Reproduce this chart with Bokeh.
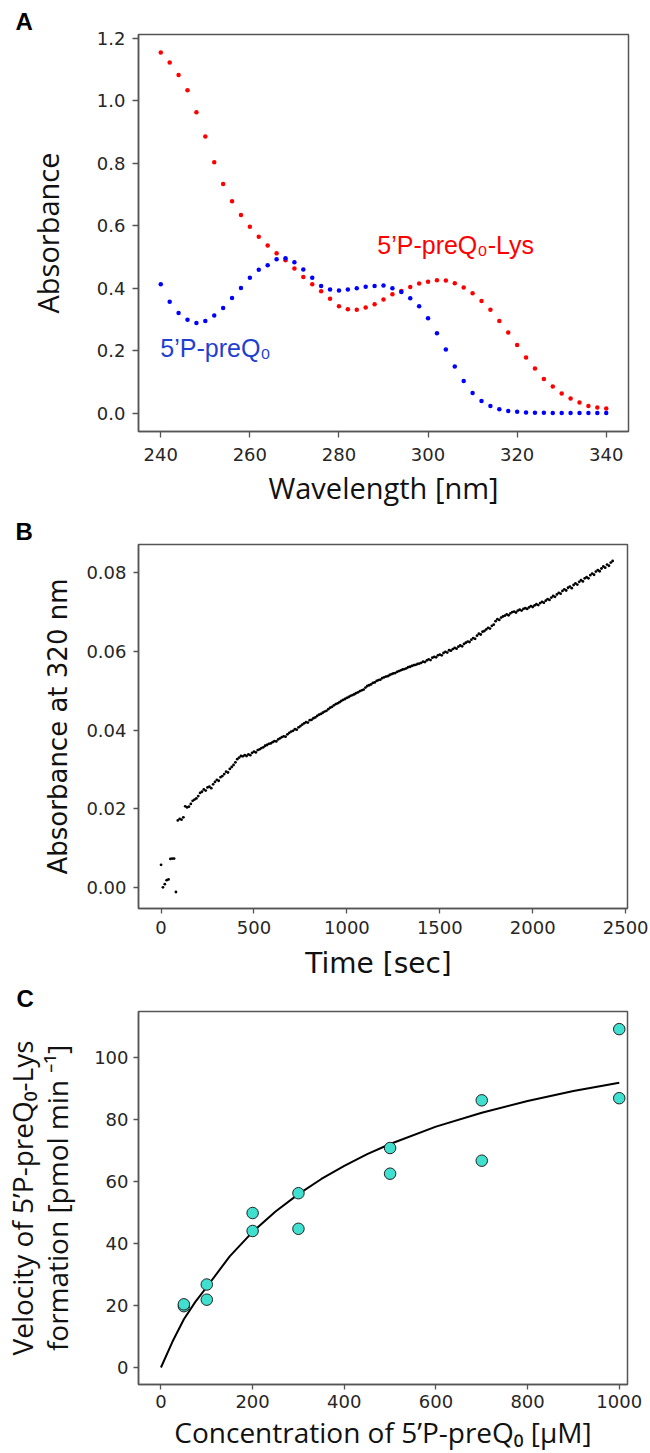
from bokeh.plotting import figure
from bokeh.models import Range1d, FixedTicker, NumeralTickFormatter, Label, Title
from bokeh.embed import file_html
from bokeh.resources import INLINE

# ---------------- data ----------------
# Panel A: UV spectra
wavelength_nm = [240, 242, 244, 246, 248, 250, 252, 254, 256, 258,
                 260, 262, 264, 266, 268, 270, 272, 274, 276, 278,
                 280, 282, 284, 286, 288, 290, 292, 294, 296, 298,
                 300, 302, 304, 306, 308, 310, 312, 314, 316, 318,
                 320, 322, 324, 326, 328, 330, 332, 334, 336, 338, 340]
abs_preq0_lys = [1.155, 1.123, 1.083, 1.034, 0.964, 0.886, 0.804, 0.734, 0.679, 0.635,
                 0.597, 0.565, 0.537, 0.512, 0.490, 0.463, 0.436, 0.413, 0.390, 0.366,
                 0.342, 0.333, 0.331, 0.338, 0.349, 0.364, 0.381, 0.391, 0.404, 0.415,
                 0.421, 0.426, 0.425, 0.416, 0.402, 0.384, 0.359, 0.331, 0.295, 0.258,
                 0.218, 0.178, 0.143, 0.109, 0.085, 0.063, 0.047, 0.034, 0.023, 0.018, 0.015]
abs_preq0 = [0.413, 0.357, 0.321, 0.299, 0.289, 0.295, 0.313, 0.337, 0.369, 0.401,
             0.434, 0.459, 0.474, 0.493, 0.496, 0.483, 0.460, 0.434, 0.407, 0.396,
             0.393, 0.396, 0.400, 0.405, 0.407, 0.409, 0.400, 0.388, 0.368, 0.342,
             0.304, 0.256, 0.204, 0.149, 0.103, 0.064, 0.039, 0.023, 0.012, 0.007,
             0.004, 0.002, 0.001, 0.001, 0.000, 0.000, 0.000, 0.000, 0.000, 0.000, 0.000]

# Panel B: kinetics at 320 nm (one reading every 10 s)
abs_320 = [
    0.0057, 0.0000, 0.0008, 0.0018, 0.0020, 0.0072, 0.0073, 0.0073, -0.0012, 0.0170,
    0.0174, 0.0172, 0.0178, 0.0206, 0.0203, 0.0205, 0.0212, 0.0220, 0.0223, 0.0226,
    0.0232, 0.0240, 0.0243, 0.0249, 0.0246, 0.0254, 0.0256, 0.0252, 0.0262, 0.0268,
    0.0273, 0.0271, 0.0280, 0.0283, 0.0288, 0.0294, 0.0292, 0.0301, 0.0306, 0.0311,
    0.0318, 0.0326, 0.0330, 0.0334, 0.0333, 0.0336, 0.0334, 0.0338, 0.0336, 0.0342,
    0.0345, 0.0343, 0.0349, 0.0351, 0.0354, 0.0356, 0.0360, 0.0362, 0.0365, 0.0366,
    0.0369, 0.0372, 0.0371, 0.0376, 0.0379, 0.0382, 0.0384, 0.0383, 0.0389, 0.0393,
    0.0396, 0.0398, 0.0402, 0.0401, 0.0407, 0.0410, 0.0414, 0.0417, 0.0420, 0.0419,
    0.0425, 0.0426, 0.0430, 0.0432, 0.0436, 0.0439, 0.0441, 0.0444, 0.0447, 0.0449,
    0.0453, 0.0457, 0.0459, 0.0463, 0.0466, 0.0468, 0.0471, 0.0474, 0.0477, 0.0479,
    0.0482, 0.0484, 0.0487, 0.0489, 0.0491, 0.0494, 0.0496, 0.0499, 0.0501, 0.0503,
    0.0508, 0.0512, 0.0514, 0.0516, 0.0520, 0.0521, 0.0525, 0.0527, 0.0528, 0.0532,
    0.0534, 0.0536, 0.0537, 0.0540, 0.0542, 0.0544, 0.0545, 0.0548, 0.0550, 0.0552,
    0.0554, 0.0555, 0.0557, 0.0560, 0.0561, 0.0563, 0.0565, 0.0566, 0.0568, 0.0569,
    0.0571, 0.0574, 0.0573, 0.0577, 0.0580, 0.0578, 0.0584, 0.0586, 0.0585, 0.0590,
    0.0592, 0.0590, 0.0596, 0.0599, 0.0597, 0.0603, 0.0602, 0.0606, 0.0609, 0.0607,
    0.0612, 0.0615, 0.0613, 0.0619, 0.0622, 0.0625, 0.0624, 0.0630, 0.0634, 0.0632,
    0.0640, 0.0645, 0.0643, 0.0650, 0.0652, 0.0656, 0.0660, 0.0658, 0.0665, 0.0668,
    0.0677, 0.0682, 0.0680, 0.0686, 0.0689, 0.0691, 0.0694, 0.0692, 0.0697, 0.0700,
    0.0701, 0.0699, 0.0704, 0.0706, 0.0704, 0.0708, 0.0710, 0.0708, 0.0712, 0.0715,
    0.0713, 0.0717, 0.0720, 0.0718, 0.0723, 0.0726, 0.0724, 0.0729, 0.0733, 0.0731,
    0.0737, 0.0741, 0.0739, 0.0745, 0.0749, 0.0747, 0.0754, 0.0758, 0.0755, 0.0762,
    0.0765, 0.0761, 0.0769, 0.0773, 0.0770, 0.0777, 0.0781, 0.0778, 0.0786, 0.0789,
    0.0786, 0.0794, 0.0798, 0.0795, 0.0803, 0.0807, 0.0804, 0.0811, 0.0816, 0.0813,
    0.0821, 0.0818, 0.0826, 0.0830]
time_s = list(range(0, 10 * len(abs_320), 10))

# Panel C: Michaelis-Menten
conc_uM = [50, 50, 100, 100, 200, 200, 300, 300, 500, 500, 700, 700, 1000, 1000]
velocity = [19.8, 20.4, 26.8, 21.9, 49.9, 44.1, 56.3, 44.8, 70.9, 62.6, 86.3, 66.8, 109.3, 87.0]
fit_conc = [0, 25, 50, 75, 100, 150, 200, 250, 300, 350, 400, 450, 500, 600, 700, 800, 900, 1000]
fit_velocity = [0, 8.3, 15.6, 21.2, 26.0, 35.9, 43.8, 50.4, 56.0, 60.9, 65.1, 68.9, 72.2,
                77.8, 82.3, 86.1, 89.3, 92.0]

# ---------------- styling helpers ----------------
FRAME = "#555555"
TICKFONT = "DejaVu Sans"
LABFONT = "Open Sans"


def style(p, tick_out=5, x_standoff=6, y_standoff=7):
    p.outline_line_color = FRAME
    p.outline_line_width = 1.5
    p.grid.visible = False
    p.background_fill_color = "white"
    p.border_fill_color = "white"
    for ax in (p.xaxis[0], p.yaxis[0]):
        ax.axis_line_color = FRAME
        ax.axis_line_width = 1.5
        ax.major_tick_line_color = FRAME
        ax.major_tick_line_width = 1.3
        ax.major_tick_out = tick_out
        ax.major_tick_in = 0
        ax.minor_tick_line_color = None
        ax.major_label_text_font = TICKFONT
        ax.major_label_text_font_size = "18px"
        ax.major_label_text_color = "#262626"
        ax.axis_label_text_font_style = "normal"
        ax.axis_label_text_color = "#111111"
    p.xaxis[0].major_label_standoff = x_standoff
    p.yaxis[0].major_label_standoff = y_standoff


def panel_letter(p, letter, offset):
    p.title = Title(text=letter, align="left", offset=offset, standoff=0,
                    text_font="Liberation Sans", text_font_style="bold",
                    text_font_size="24px", text_color="black")


# ---------------- Panel A ----------------
pA = figure(width=650, height=515, x_range=Range1d(235, 345), y_range=Range1d(-0.059, 1.213),
            output_backend="svg", toolbar_location=None,
            min_border_left=138, min_border_right=22, min_border_top=34, min_border_bottom=84)
style(pA, tick_out=6, x_standoff=10, y_standoff=7)
pA.scatter(wavelength_nm, abs_preq0_lys, size=4.5, color="#ff0000", line_color=None)
pA.scatter(wavelength_nm, abs_preq0, size=4.5, color="#0000ff", line_color=None)
pA.xaxis.ticker = FixedTicker(ticks=[240, 260, 280, 300, 320, 340])
pA.yaxis.ticker = FixedTicker(ticks=[0.0, 0.2, 0.4, 0.6, 0.8, 1.0, 1.2])
pA.yaxis.formatter = NumeralTickFormatter(format="0.0")
pA.xaxis.axis_label = "Wavelength [nm]"
pA.yaxis.axis_label = "Absorbance"
for ax in (pA.xaxis[0], pA.yaxis[0]):
    ax.axis_label_text_font = LABFONT
    ax.axis_label_text_font_size = "29px"
pA.yaxis.axis_label_standoff = 27
pA.xaxis.axis_label_standoff = 4
pA.add_layout(Label(x=288.6, y=0.537, text="5’P-preQ₀-Lys", text_color="#ff0000",
                    text_font="Liberation Sans", text_font_size="25px",
                    text_align="left", text_baseline="middle"))
pA.add_layout(Label(x=239.9, y=0.207, text="5’P-preQ₀", text_color="#1f3fd0",
                    text_font="Liberation Sans", text_font_size="25px",
                    text_align="left", text_baseline="middle"))
panel_letter(pA, "A", -123)

# ---------------- Panel B ----------------
pB = figure(width=650, height=467, x_range=Range1d(-121.5, 2510), y_range=Range1d(-0.0054, 0.0872),
            output_backend="svg", toolbar_location=None,
            min_border_left=138, min_border_right=23, min_border_top=26, min_border_bottom=72)
style(pB, tick_out=5, x_standoff=7, y_standoff=7)
pB.scatter(time_s, abs_320, size=2.8, color="black", line_color=None)
pB.xaxis.ticker = FixedTicker(ticks=[0, 500, 1000, 1500, 2000, 2500])
pB.xaxis.formatter = NumeralTickFormatter(format="0")
pB.yaxis.ticker = FixedTicker(ticks=[0.0, 0.02, 0.04, 0.06, 0.08])
pB.yaxis.formatter = NumeralTickFormatter(format="0.00")
pB.xaxis.axis_label = "Time  [sec]"
pB.yaxis.axis_label = "Absorbance at 320 nm"
pB.xaxis.axis_label_text_font = "DejaVu Sans"
pB.xaxis.axis_label_text_font_size = "28px"
pB.yaxis.axis_label_text_font = "DejaVu Sans"
pB.yaxis.axis_label_text_font_size = "26px"
pB.yaxis.axis_label_standoff = 10
pB.xaxis.axis_label_standoff = 10
panel_letter(pB, "B", -123)

# ---------------- Panel C ----------------
pC = figure(width=650, height=471, x_range=Range1d(-49, 1018), y_range=Range1d(-5.5, 115),
            output_backend="svg", toolbar_location=None,
            min_border_left=137, min_border_right=23, min_border_top=26, min_border_bottom=68)
style(pC, tick_out=5, x_standoff=5, y_standoff=5)
pC.line(fit_conc, fit_velocity, line_color="black", line_width=2)
pC.scatter(conc_uM, velocity, size=11.5, fill_color="#40e0d0", line_color="#222222", line_width=1)
pC.xaxis.ticker = FixedTicker(ticks=[0, 200, 400, 600, 800, 1000])
pC.yaxis.ticker = FixedTicker(ticks=[0, 20, 40, 60, 80, 100])
pC.yaxis.axis_label = "Velocity of 5’P-preQ₀-Lys\nformation [pmol min ⁻¹]"
pC.xaxis.axis_label = "Concentration of 5’P-preQ₀ [µM]"
for ax in (pC.xaxis[0], pC.yaxis[0]):
    ax.axis_label_text_font = LABFONT
    ax.axis_label_text_font_size = "28px"
pC.yaxis.axis_label_text_line_height = 0.92
pC.yaxis.axis_label_standoff = 15
pC.xaxis.axis_label_standoff = 2
panel_letter(pC, "C", -122)

open("out.html", "w").write(file_html([pA, pB, pC], INLINE))
